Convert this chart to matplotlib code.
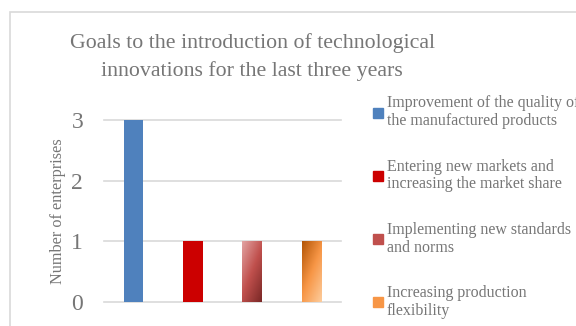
import numpy as np
import matplotlib

matplotlib.use("Agg")
import matplotlib.pyplot as plt
from matplotlib.patches import Rectangle

goals = [
    "Improvement of the quality of\nthe manufactured products",
    "Entering new markets and\nincreasing the market share",
    "Implementing new standards\nand norms",
    "Increasing production\nflexibility",
]
enterprises = [3, 1, 1, 1]
yticks = [0, 1, 2, 3]

plt.rcParams["font.family"] = ["Liberation Serif", "DejaVu Serif"]
GRAY = "#767676"

fig = plt.figure(figsize=(5.76, 3.26), dpi=100)
ax = fig.add_axes([104 / 576, 1 - 302 / 326, 237 / 576, 182 / 326])

# chart border
fig.patches.append(Rectangle((10 / 576, -0.1), 1.2, 1 - 12 / 326 + 0.1,
                             transform=fig.transFigure, fill=False,
                             edgecolor="#d9d9d9", linewidth=1.2))

colors = ["#4f81bd", "#cc0000", "#c0504d", "#f79646"]
x = np.arange(len(goals))
bars = ax.bar(x, enterprises, width=0.33, color=colors, zorder=3)

# gradient fills for the last two bars (diagonal, top-left -> bottom-right)
gradients = {
    2: ["#e2a3a2", "#c0504d", "#7a2826"],
    3: ["#b35506", "#f79646", "#fdcc9c"],
}
gy, gx = np.mgrid[0:1:100j, 0:1:30j]
t = gy * 0.75 + gx * 0.6
t = t / t.max()
for i, cols in gradients.items():
    cmap = matplotlib.colors.LinearSegmentedColormap.from_list(f"g{i}", cols)
    b = bars[i]
    im = ax.imshow(t, cmap=cmap, extent=(b.get_x(), b.get_x() + b.get_width(), 0, b.get_height()),
                   origin="upper", aspect="auto", zorder=4)
    im.set_clip_path(b)

ax.set_xlim(-0.5, len(goals) - 0.5)
ax.set_ylim(0, 3)
ax.set_yticks(yticks)
ax.set_xticks([])
ax.tick_params(axis="y", length=0, pad=15, labelsize=17, labelcolor=GRAY)
ax.grid(axis="y", color="#d9d9d9", linewidth=1.2, zorder=0)
for g in ax.get_ygridlines():
    g.set_clip_on(False)
for s in ax.spines.values():
    s.set_visible(False)
ax.set_ylabel("Number of enterprises", fontsize=11.7, color=GRAY, labelpad=4)

fig.text(252 / 576, 1 - 57 / 326,
         "Goals to the introduction of technological\ninnovations for the last three years",
         ha="center", va="center", fontsize=15.75, color=GRAY, linespacing=1.52)

handles = [Rectangle((0, 0), 1, 1, color=c) for c in colors]
leg = fig.legend(handles, goals, loc="upper left", bbox_to_anchor=(367 / 576, 1 - 89 / 326),
                 frameon=False, fontsize=11.5, labelcolor=GRAY, handlelength=0.6,
                 handleheight=0.6, handletextpad=0.25, labelspacing=1.84, borderaxespad=0)
for txt in leg.get_texts():
    txt.set_linespacing(1.15)

fig.savefig("out.png", dpi=100)
